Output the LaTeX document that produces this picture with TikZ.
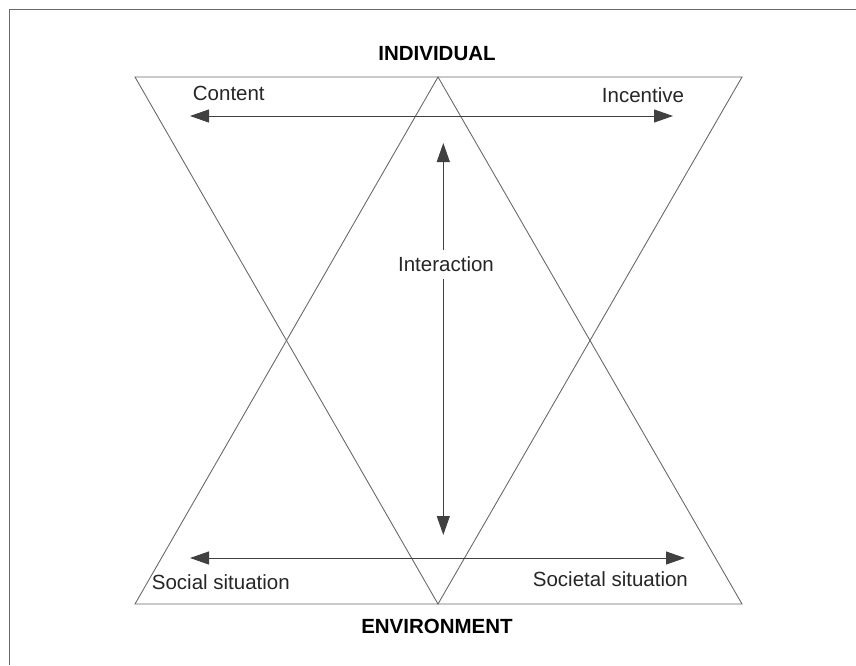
\documentclass[tikz,border=0pt]{standalone}
\usepackage{fontspec}
\setmainfont{Liberation Sans}
\usepackage{tikz}
\usetikzlibrary{arrows.meta,calc,positioning}
\definecolor{linegray}{HTML}{6A6A6A}
\definecolor{arrowgray}{HTML}{404040}
\tikzset{tri/.style={draw=linegray, line width=0.9pt, line join=miter},
    dblarrow/.style={{Triangle[length=19pt,width=13pt]}-{Triangle[length=19pt,width=13pt]}, draw=arrowgray, fill=arrowgray, line width=1pt},
    onearrow/.style={-{Triangle[length=19pt,width=13pt]}, draw=arrowgray, fill=arrowgray, line width=1pt},
    lbl/.style={inner sep=0pt, font=\fontsize{20.5}{24}\selectfont, text=black!85},
    head/.style={lbl, font=\fontsize{20.5}{24}\selectfont\bfseries, text=black}}

\begin{document}
\begin{tikzpicture}[x=1pt, y=-1pt]

    \useasboundingbox (0,0) rectangle (856,665);

% the frame

    \draw [linegray, line width=1pt] (9,665) -- (9,9) -- (856,9);

% the two triangles

    \coordinate (tl) at (135,77);
    \coordinate (tm) at (438,77);
    \coordinate (tr) at (742,77);
    \coordinate (bl) at (135,604);
    \coordinate (bm) at (438,604);
    \coordinate (br) at (742,604);
    \draw [tri]  (tl) -- (tr) -- (bm) -- cycle;
    \draw [tri]  (tm) -- (br) -- (bl) -- cycle;

% the labels

    \node [head, anchor=base] (indiv) at (437,60) {INDIVIDUAL};
    \node [head, anchor=base] (envir) at (437,633) {ENVIRONMENT};
    \node [lbl, anchor=base west] (content) at (192.7,100.7) {Content};
    \node [lbl, anchor=base west] (incent) at (601.7,102.7) {Incentive};
    \node [lbl, anchor=base west] (social) at (151.7,589) {Social situation};
    \node [lbl, anchor=base west] (societal) at (532.7,586.7) {Societal situation};
    \node [lbl, anchor=base, inner ysep=7pt] (inter) at (446,271.7) {Interaction};

% the arrows

    \coordinate (topl) at (190,116);
    \coordinate (topr) at (673,116);
    \coordinate (botl) at (190,558);
    \coordinate (botr) at (685,558);
    \coordinate (vtop) at (443.3,143);
    \coordinate (vbot) at (443.3,535);
    \draw [dblarrow] (topl) -- (topr);
    \draw [dblarrow] (botl) -- (botr);
    \draw [onearrow] (vtop |- inter.north) -- (vtop);
    \draw [onearrow] (vbot |- inter.south) -- (vbot);

\end{tikzpicture}
\end{document}
